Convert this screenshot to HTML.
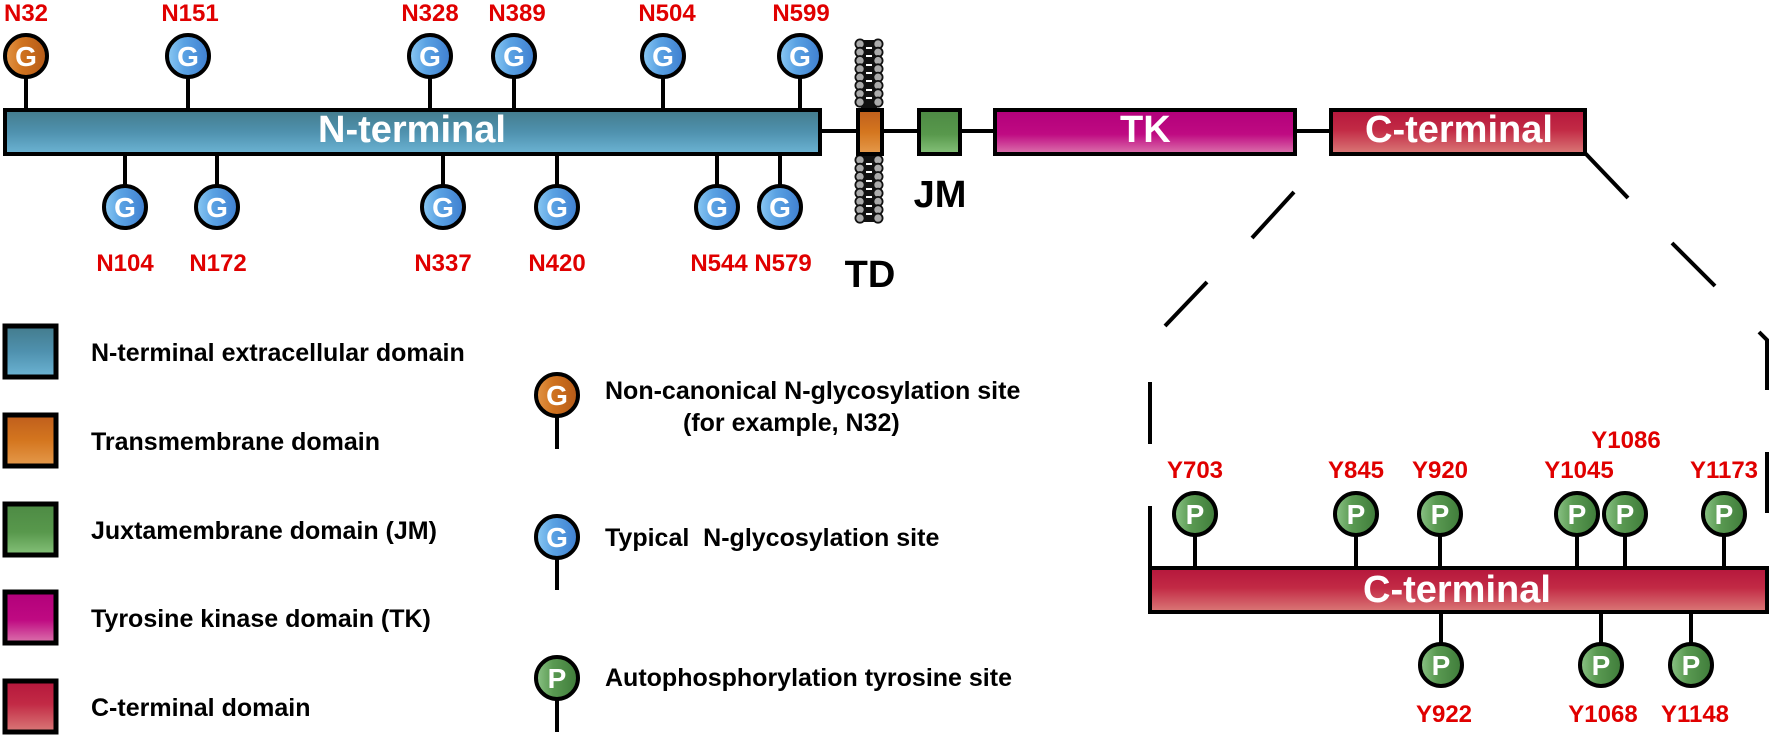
<!DOCTYPE html>
<html><head><meta charset="utf-8"><style>
html,body{margin:0;padding:0;background:#fff;}
svg{display:block;font-family:"Liberation Sans",Arial,sans-serif;font-weight:bold;}
</style></head><body>
<svg width="1772" height="737" viewBox="0 0 1772 737" xmlns="http://www.w3.org/2000/svg">
<defs>
<linearGradient id="gN" x1="0" y1="0" x2="0" y2="1"><stop offset="0" stop-color="#437b8c"/><stop offset="0.5" stop-color="#4f91ae"/><stop offset="1" stop-color="#6cb4d4"/></linearGradient>
<linearGradient id="gO" x1="0" y1="0" x2="0" y2="1"><stop offset="0" stop-color="#bf5e1c"/><stop offset="0.5" stop-color="#d4761f"/><stop offset="1" stop-color="#e59a4c"/></linearGradient>
<linearGradient id="gJ" x1="0" y1="0" x2="0" y2="1"><stop offset="0" stop-color="#4d8a44"/><stop offset="0.55" stop-color="#58984c"/><stop offset="1" stop-color="#86c27a"/></linearGradient>
<linearGradient id="gT" x1="0" y1="0" x2="0" y2="1"><stop offset="0" stop-color="#b2007a"/><stop offset="0.55" stop-color="#bf0a82"/><stop offset="1" stop-color="#dc74ad"/></linearGradient>
<linearGradient id="gC" x1="0" y1="0" x2="0" y2="1"><stop offset="0" stop-color="#b5173c"/><stop offset="0.45" stop-color="#c22a45"/><stop offset="1" stop-color="#da7a78"/></linearGradient>
<linearGradient id="cB" x1="0" y1="0" x2="1" y2="0"><stop offset="0" stop-color="#8ccaf3"/><stop offset="0.4" stop-color="#5aa2e3"/><stop offset="1" stop-color="#3f7fd0"/></linearGradient>
<linearGradient id="cO" x1="0" y1="0" x2="1" y2="0"><stop offset="0" stop-color="#e29548"/><stop offset="0.4" stop-color="#d0731f"/><stop offset="1" stop-color="#b55a18"/></linearGradient>
<linearGradient id="cG" x1="0" y1="0" x2="1" y2="0"><stop offset="0" stop-color="#8cc487"/><stop offset="0.4" stop-color="#5a9a52"/><stop offset="1" stop-color="#3f7c3a"/></linearGradient>
<g id="pinG"><circle r="21" fill="url(#cB)" stroke="#000" stroke-width="4"/><text y="10" text-anchor="middle" font-size="28" fill="#fff">G</text></g>
<g id="pinGo"><circle r="21" fill="url(#cO)" stroke="#000" stroke-width="4"/><text y="10" text-anchor="middle" font-size="28" fill="#fff">G</text></g>
<g id="pinP"><circle r="21" fill="url(#cG)" stroke="#000" stroke-width="4"/><text y="10" text-anchor="middle" font-size="28" fill="#fff">P</text></g>
</defs>

<g stroke="#000" stroke-width="4" fill="none">
<!-- connectors -->
<line x1="820" y1="131" x2="858" y2="131"/>
<line x1="882" y1="131" x2="919" y2="131"/>
<line x1="960" y1="131" x2="995" y2="131"/>
<line x1="1295" y1="131" x2="1331" y2="131"/>
<!-- top stems N -->
<line x1="26" y1="78" x2="26" y2="108"/><line x1="188" y1="78" x2="188" y2="108"/>
<line x1="430" y1="78" x2="430" y2="108"/><line x1="514" y1="78" x2="514" y2="108"/>
<line x1="663" y1="78" x2="663" y2="108"/><line x1="800" y1="78" x2="800" y2="108"/>
<!-- bottom stems N -->
<line x1="125" y1="155" x2="125" y2="185"/><line x1="217" y1="155" x2="217" y2="185"/>
<line x1="443" y1="155" x2="443" y2="185"/><line x1="557" y1="155" x2="557" y2="185"/>
<line x1="717" y1="155" x2="717" y2="185"/><line x1="780" y1="155" x2="780" y2="185"/>
<!-- dashed zoom lines -->
<line x1="1294" y1="192" x2="1252" y2="238"/>
<line x1="1207" y1="282" x2="1165" y2="326"/>
<line x1="1150" y1="382" x2="1150" y2="444"/>
<line x1="1150" y1="506" x2="1150" y2="568"/>
<line x1="1585" y1="153" x2="1628" y2="198"/>
<line x1="1672" y1="243" x2="1715" y2="286"/>
<polyline points="1759,332 1767,340 1767,390"/>
<line x1="1767" y1="452" x2="1767" y2="513"/>
<!-- C stems -->
<line x1="1195" y1="536" x2="1195" y2="566"/><line x1="1356" y1="536" x2="1356" y2="566"/>
<line x1="1440" y1="536" x2="1440" y2="566"/><line x1="1577" y1="536" x2="1577" y2="566"/>
<line x1="1625" y1="536" x2="1625" y2="566"/><line x1="1724" y1="536" x2="1724" y2="566"/>
<line x1="1441" y1="612" x2="1441" y2="643"/><line x1="1601" y1="612" x2="1601" y2="643"/>
<line x1="1691" y1="612" x2="1691" y2="643"/>
<!-- legend stems -->
<line x1="557" y1="417" x2="557" y2="449"/>
<line x1="557" y1="559" x2="557" y2="590"/>
<line x1="557" y1="700" x2="557" y2="732"/>
</g>

<!-- membrane -->
<g>
<rect x="861" y="40" width="16" height="182" fill="#111"/>
<g fill="#aaa" stroke="#111" stroke-width="1.8">
<circle cx="860" cy="44" r="4.6"/><circle cx="878" cy="44" r="4.6"/>
<circle cx="860" cy="52.3" r="4.6"/><circle cx="878" cy="52.3" r="4.6"/>
<circle cx="860" cy="60.6" r="4.6"/><circle cx="878" cy="60.6" r="4.6"/>
<circle cx="860" cy="68.9" r="4.6"/><circle cx="878" cy="68.9" r="4.6"/>
<circle cx="860" cy="77.2" r="4.6"/><circle cx="878" cy="77.2" r="4.6"/>
<circle cx="860" cy="85.5" r="4.6"/><circle cx="878" cy="85.5" r="4.6"/>
<circle cx="860" cy="93.8" r="4.6"/><circle cx="878" cy="93.8" r="4.6"/>
<circle cx="860" cy="102.1" r="4.6"/><circle cx="878" cy="102.1" r="4.6"/>
<circle cx="860" cy="160" r="4.6"/><circle cx="878" cy="160" r="4.6"/>
<circle cx="860" cy="168.3" r="4.6"/><circle cx="878" cy="168.3" r="4.6"/>
<circle cx="860" cy="176.6" r="4.6"/><circle cx="878" cy="176.6" r="4.6"/>
<circle cx="860" cy="184.9" r="4.6"/><circle cx="878" cy="184.9" r="4.6"/>
<circle cx="860" cy="193.2" r="4.6"/><circle cx="878" cy="193.2" r="4.6"/>
<circle cx="860" cy="201.5" r="4.6"/><circle cx="878" cy="201.5" r="4.6"/>
<circle cx="860" cy="209.8" r="4.6"/><circle cx="878" cy="209.8" r="4.6"/>
<circle cx="860" cy="218.1" r="4.6"/><circle cx="878" cy="218.1" r="4.6"/>
</g>
<g stroke="#fff" stroke-width="2">
<line x1="866" y1="48" x2="872" y2="48"/><line x1="866" y1="56" x2="872" y2="56"/><line x1="866" y1="65" x2="872" y2="65"/><line x1="866" y1="73" x2="872" y2="73"/><line x1="866" y1="81" x2="872" y2="81"/><line x1="866" y1="90" x2="872" y2="90"/><line x1="866" y1="98" x2="872" y2="98"/>
<line x1="866" y1="164" x2="872" y2="164"/><line x1="866" y1="172" x2="872" y2="172"/><line x1="866" y1="181" x2="872" y2="181"/><line x1="866" y1="189" x2="872" y2="189"/><line x1="866" y1="197" x2="872" y2="197"/><line x1="866" y1="206" x2="872" y2="206"/><line x1="866" y1="214" x2="872" y2="214"/>
</g>
</g>

<!-- domain boxes -->
<g stroke="#000" stroke-width="4">
<rect x="5" y="110" width="815" height="44" fill="url(#gN)"/>
<rect x="858" y="110" width="24" height="44" fill="url(#gO)"/>
<rect x="919" y="110" width="41" height="44" fill="url(#gJ)"/>
<rect x="995" y="110" width="300" height="44" fill="url(#gT)"/>
<rect x="1331" y="110" width="254" height="44" fill="url(#gC)"/>
<rect x="1150" y="568" width="617" height="44" fill="url(#gC)"/>
</g>
<g fill="#fff" font-size="38">
<text x="318" y="142">N-terminal</text>
<text x="1120" y="142">TK</text>
<text x="1365" y="142">C-terminal</text>
<text x="1363" y="602">C-terminal</text>
</g>
<g fill="#000" font-size="38" text-anchor="middle">
<text x="940" y="207">JM</text>
<text x="870" y="287">TD</text>
</g>

<!-- pins N -->
<use href="#pinGo" x="26" y="56"/>
<use href="#pinG" x="188" y="56"/><use href="#pinG" x="430" y="56"/><use href="#pinG" x="514" y="56"/>
<use href="#pinG" x="663" y="56"/><use href="#pinG" x="800" y="56"/>
<use href="#pinG" x="125" y="207"/><use href="#pinG" x="217" y="207"/><use href="#pinG" x="443" y="207"/>
<use href="#pinG" x="557" y="207"/><use href="#pinG" x="717" y="207"/><use href="#pinG" x="780" y="207"/>

<g fill="#e00000" font-size="24" text-anchor="middle">
<text x="26" y="21">N32</text><text x="190" y="21">N151</text><text x="430" y="21">N328</text>
<text x="517" y="21">N389</text><text x="667" y="21">N504</text><text x="801" y="21">N599</text>
<text x="125" y="271">N104</text><text x="218" y="271">N172</text><text x="443" y="271">N337</text>
<text x="557" y="271">N420</text><text x="719" y="271">N544</text><text x="783" y="271">N579</text>
<text x="1195" y="478">Y703</text><text x="1356" y="478">Y845</text><text x="1440" y="478">Y920</text>
<text x="1579" y="478">Y1045</text><text x="1626" y="448">Y1086</text><text x="1724" y="478">Y1173</text>
<text x="1444" y="722">Y922</text><text x="1603" y="722">Y1068</text><text x="1695" y="722">Y1148</text>
</g>

<!-- pins C -->
<use href="#pinP" x="1195" y="514"/><use href="#pinP" x="1356" y="514"/><use href="#pinP" x="1440" y="514"/>
<use href="#pinP" x="1577" y="514"/><use href="#pinP" x="1625" y="514"/><use href="#pinP" x="1724" y="514"/>
<use href="#pinP" x="1441" y="665"/><use href="#pinP" x="1601" y="665"/><use href="#pinP" x="1691" y="665"/>

<!-- legend boxes -->
<g stroke="#000" stroke-width="5">
<rect x="5" y="326" width="51" height="51" fill="url(#gN)"/>
<rect x="5" y="415" width="51" height="51" fill="url(#gO)"/>
<rect x="5" y="504" width="51" height="51" fill="url(#gJ)"/>
<rect x="5" y="592" width="51" height="51" fill="url(#gT)"/>
<rect x="5" y="681" width="51" height="51" fill="url(#gC)"/>
</g>
<g fill="#000" font-size="25">
<text x="91" y="361">N-terminal extracellular domain</text>
<text x="91" y="450">Transmembrane domain</text>
<text x="91" y="539">Juxtamembrane domain (JM)</text>
<text x="91" y="627">Tyrosine kinase domain (TK)</text>
<text x="91" y="716">C-terminal domain</text>
<text x="605" y="399">Non-canonical N-glycosylation site</text>
<text x="683" y="431">(for example, N32)</text>
<text x="605" y="546" xml:space="preserve">Typical  N-glycosylation site</text>
<text x="605" y="686">Autophosphorylation tyrosine site</text>
</g>
<use href="#pinGo" x="557" y="395"/>
<use href="#pinG" x="557" y="537"/>
<use href="#pinP" x="557" y="678"/>
</svg>
</body></html>
